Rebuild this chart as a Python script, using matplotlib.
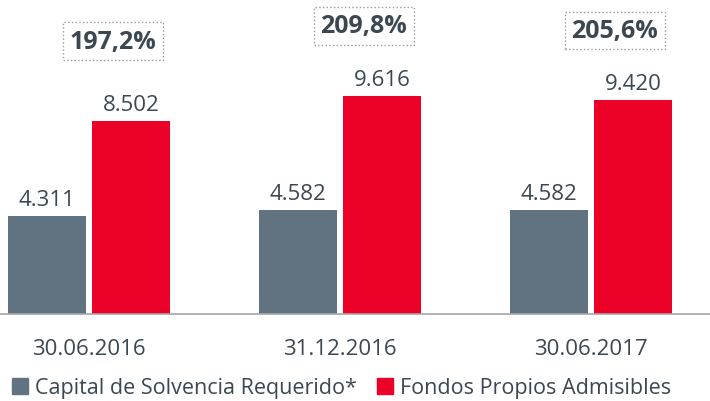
import numpy as np
import matplotlib.pyplot as plt
from matplotlib.lines import Line2D

plt.rcParams['font.family'] = ['Open Sans', 'DejaVu Sans']

# data
dates = ['30.06.2016', '31.12.2016', '30.06.2017']
capital_requerido = [4311, 4582, 4582]
fondos_propios = [8502, 9616, 9420]
ratio_labels = ['197,2%', '209,8%', '205,6%']

gray = '#617381'
red = '#eb0027'
text_col = '#3b4852'

fig = plt.figure(figsize=(7.10, 4.02), dpi=100)
ax = fig.add_axes([0, 87 / 402, 1, 315 / 402])

x = np.arange(len(dates))
w = 0.311
off = 0.167
b1 = ax.bar(x - off, capital_requerido, w, color=gray)
b2 = ax.bar(x + off, fondos_propios, w, color=red)

px_per_unit = 0.02268
ax.set_ylim(0, 315 / px_per_unit)
ax.set_xlim(-89 / 251, (710 - 89) / 251)

def fmt(v):
    return f"{v:,}".replace(',', '.')

for xs, vals in ((x - off, capital_requerido), (x + off, fondos_propios)):
    for xi, v in zip(xs, vals):
        ax.annotate(fmt(v), xy=(xi, v), xytext=(0, 6), textcoords='offset pixels',
                    ha='center', va='bottom', fontsize=16, color=text_col)

# ratio boxes above the red bars
lift = [80, 70, 70]
for xi, v, lab, dy in zip(x + off, fondos_propios, ratio_labels, lift):
    ax.annotate(lab, xy=(xi, v), xytext=(-18, dy), textcoords='offset pixels',
                ha='center', va='center', fontsize=18, fontweight='bold', color=text_col,
                bbox=dict(boxstyle='square,pad=0.25', fc='white', ec='#9a9a9a',
                          ls=':', lw=1.0))

for s in ('top', 'right', 'left'):
    ax.spines[s].set_visible(False)
ax.spines['bottom'].set_color('#a6a6a6')
ax.spines['bottom'].set_linewidth(1.2)
ax.set_yticks([])
ax.set_xticks(x)
ax.set_xticklabels(dates, fontsize=16, color=text_col)
ax.tick_params(axis='x', length=0, pad=17)

handles = [Line2D([], [], marker='s', ls='none', markersize=11.5, color=gray),
           Line2D([], [], marker='s', ls='none', markersize=11.5, color=red)]
fig.legend(handles, ['Capital de Solvencia Requerido*', 'Fondos Propios Admisibles'],
           loc='center left', bbox_to_anchor=(11 / 710, 13 / 402), ncol=2, frameon=False,
           fontsize=15.5, handlelength=0.8, handletextpad=0.3, columnspacing=0.9,
           borderpad=0, borderaxespad=0, labelcolor=text_col)

fig.savefig('out.png', dpi=100)
